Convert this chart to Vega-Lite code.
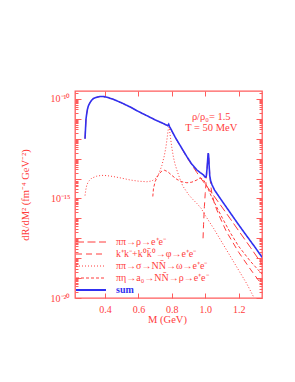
{
  "$schema": "https://vega.github.io/schema/vega-lite/v6.json",
  "width": 187,
  "height": 207,
  "autosize": {"type": "none"},
  "padding": {"left": 75, "top": 91, "right": 33, "bottom": 84},
  "background": "white",
  "config": {
    "view": {"stroke": "#ff5c5c", "strokeWidth": 1.3},
    "font": "Liberation Serif",
    "axis": {"grid": false, "domain": false, "labelFont": "Liberation Serif", "titleFont": "Liberation Serif", "labelColor": "#ff3c3c", "titleColor": "#ff3c3c", "tickColor": "#ff5c5c", "tickWidth": 1, "labelFontSize": 10, "titleFontSize": 10.5, "titleFontWeight": "normal", "labelOverlap": false, "labelFlush": false}
  },
  "datasets": {
    "red": [
      {"s": "ππ→ρ→e⁺e⁻", "M": 0.280, "R": 1.0e-12},
      {"s": "ππ→ρ→e⁺e⁻", "M": 0.283, "R": 3.16e-12},
      {"s": "ππ→ρ→e⁺e⁻", "M": 0.286, "R": 1.0e-11},
      {"s": "ππ→ρ→e⁺e⁻", "M": 0.290, "R": 1.78e-11},
      {"s": "ππ→ρ→e⁺e⁻", "M": 0.295, "R": 3.16e-11},
      {"s": "ππ→ρ→e⁺e⁻", "M": 0.300, "R": 4.47e-11},
      {"s": "ππ→ρ→e⁺e⁻", "M": 0.310, "R": 6.61e-11},
      {"s": "ππ→ρ→e⁺e⁻", "M": 0.320, "R": 8.71e-11},
      {"s": "ππ→ρ→e⁺e⁻", "M": 0.330, "R": 1.05e-10},
      {"s": "ππ→ρ→e⁺e⁻", "M": 0.350, "R": 1.23e-10},
      {"s": "ππ→ρ→e⁺e⁻", "M": 0.370, "R": 1.32e-10},
      {"s": "ππ→ρ→e⁺e⁻", "M": 0.390, "R": 1.32e-10},
      {"s": "ππ→ρ→e⁺e⁻", "M": 0.410, "R": 1.23e-10},
      {"s": "ππ→ρ→e⁺e⁻", "M": 0.450, "R": 9.55e-11},
      {"s": "ππ→ρ→e⁺e⁻", "M": 0.500, "R": 6.31e-11},
      {"s": "ππ→ρ→e⁺e⁻", "M": 0.550, "R": 3.98e-11},
      {"s": "ππ→ρ→e⁺e⁻", "M": 0.600, "R": 2.34e-11},
      {"s": "ππ→ρ→e⁺e⁻", "M": 0.650, "R": 1.45e-11},
      {"s": "ππ→ρ→e⁺e⁻", "M": 0.700, "R": 8.91e-12},
      {"s": "ππ→ρ→e⁺e⁻", "M": 0.740, "R": 6.31e-12},
      {"s": "ππ→ρ→e⁺e⁻", "M": 0.760, "R": 5.25e-12},
      {"s": "ππ→ρ→e⁺e⁻", "M": 0.775, "R": 4.57e-12},
      {"s": "ππ→ρ→e⁺e⁻", "M": 0.787, "R": 3.8e-12},
      {"s": "ππ→ρ→e⁺e⁻", "M": 0.800, "R": 2.40e-12},
      {"s": "ππ→ρ→e⁺e⁻", "M": 0.820, "R": 1.15e-12},
      {"s": "ππ→ρ→e⁺e⁻", "M": 0.860, "R": 3.16e-13},
      {"s": "ππ→ρ→e⁺e⁻", "M": 0.890, "R": 1.17e-13},
      {"s": "ππ→ρ→e⁺e⁻", "M": 0.920, "R": 4.79e-14},
      {"s": "ππ→ρ→e⁺e⁻", "M": 0.950, "R": 2.0e-14},
      {"s": "ππ→ρ→e⁺e⁻", "M": 0.970, "R": 1.12e-14},
      {"s": "ππ→ρ→e⁺e⁻", "M": 1.000, "R": 5.25e-15},
      {"s": "ππ→ρ→e⁺e⁻", "M": 1.050, "R": 1.41e-15},
      {"s": "ππ→ρ→e⁺e⁻", "M": 1.100, "R": 3.72e-16},
      {"s": "ππ→ρ→e⁺e⁻", "M": 1.150, "R": 9.55e-17},
      {"s": "ππ→ρ→e⁺e⁻", "M": 1.200, "R": 2.40e-17},
      {"s": "ππ→ρ→e⁺e⁻", "M": 1.270, "R": 3.55e-18},
      {"s": "ππ→ρ→e⁺e⁻", "M": 1.340, "R": 5.01e-19},

      {"s": "k⁺k⁻+k⁰k̄⁰→φ→e⁺e⁻", "M": 0.987, "R": 1.0e-17},
      {"s": "k⁺k⁻+k⁰k̄⁰→φ→e⁺e⁻", "M": 0.990, "R": 5.01e-17},
      {"s": "k⁺k⁻+k⁰k̄⁰→φ→e⁺e⁻", "M": 0.995, "R": 3.98e-16},
      {"s": "k⁺k⁻+k⁰k̄⁰→φ→e⁺e⁻", "M": 1.000, "R": 1.78e-15},
      {"s": "k⁺k⁻+k⁰k̄⁰→φ→e⁺e⁻", "M": 1.005, "R": 6.31e-15},
      {"s": "k⁺k⁻+k⁰k̄⁰→φ→e⁺e⁻", "M": 1.010, "R": 2.51e-14},
      {"s": "k⁺k⁻+k⁰k̄⁰→φ→e⁺e⁻", "M": 1.014, "R": 7.94e-14},
      {"s": "k⁺k⁻+k⁰k̄⁰→φ→e⁺e⁻", "M": 1.017, "R": 1.58e-13},
      {"s": "k⁺k⁻+k⁰k̄⁰→φ→e⁺e⁻", "M": 1.019, "R": 1.91e-13},
      {"s": "k⁺k⁻+k⁰k̄⁰→φ→e⁺e⁻", "M": 1.021, "R": 1.41e-13},
      {"s": "k⁺k⁻+k⁰k̄⁰→φ→e⁺e⁻", "M": 1.024, "R": 5.01e-14},
      {"s": "k⁺k⁻+k⁰k̄⁰→φ→e⁺e⁻", "M": 1.028, "R": 1.26e-14},
      {"s": "k⁺k⁻+k⁰k̄⁰→φ→e⁺e⁻", "M": 1.033, "R": 4.47e-15},
      {"s": "k⁺k⁻+k⁰k̄⁰→φ→e⁺e⁻", "M": 1.040, "R": 1.78e-15},
      {"s": "k⁺k⁻+k⁰k̄⁰→φ→e⁺e⁻", "M": 1.055, "R": 5.62e-16},
      {"s": "k⁺k⁻+k⁰k̄⁰→φ→e⁺e⁻", "M": 1.080, "R": 1.58e-16},
      {"s": "k⁺k⁻+k⁰k̄⁰→φ→e⁺e⁻", "M": 1.126, "R": 2.24e-17},
      {"s": "k⁺k⁻+k⁰k̄⁰→φ→e⁺e⁻", "M": 1.200, "R": 2.0e-18},
      {"s": "k⁺k⁻+k⁰k̄⁰→φ→e⁺e⁻", "M": 1.270, "R": 2.82e-19},
      {"s": "k⁺k⁻+k⁰k̄⁰→φ→e⁺e⁻", "M": 1.340, "R": 4.47e-20},

      {"s": "ππ→σ→NN̄→ω→e⁺e⁻", "M": 0.280, "R": 1.41e-15},
      {"s": "ππ→σ→NN̄→ω→e⁺e⁻", "M": 0.285, "R": 2.82e-15},
      {"s": "ππ→σ→NN̄→ω→e⁺e⁻", "M": 0.290, "R": 4.47e-15},
      {"s": "ππ→σ→NN̄→ω→e⁺e⁻", "M": 0.300, "R": 7.08e-15},
      {"s": "ππ→σ→NN̄→ω→e⁺e⁻", "M": 0.320, "R": 1.05e-14},
      {"s": "ππ→σ→NN̄→ω→e⁺e⁻", "M": 0.350, "R": 1.32e-14},
      {"s": "ππ→σ→NN̄→ω→e⁺e⁻", "M": 0.380, "R": 1.45e-14},
      {"s": "ππ→σ→NN̄→ω→e⁺e⁻", "M": 0.410, "R": 1.41e-14},
      {"s": "ππ→σ→NN̄→ω→e⁺e⁻", "M": 0.450, "R": 1.26e-14},
      {"s": "ππ→σ→NN̄→ω→e⁺e⁻", "M": 0.500, "R": 1.05e-14},
      {"s": "ππ→σ→NN̄→ω→e⁺e⁻", "M": 0.550, "R": 8.51e-15},
      {"s": "ππ→σ→NN̄→ω→e⁺e⁻", "M": 0.600, "R": 7.41e-15},
      {"s": "ππ→σ→NN̄→ω→e⁺e⁻", "M": 0.650, "R": 6.92e-15},
      {"s": "ππ→σ→NN̄→ω→e⁺e⁻", "M": 0.680, "R": 7.59e-15},
      {"s": "ππ→σ→NN̄→ω→e⁺e⁻", "M": 0.700, "R": 9.55e-15},
      {"s": "ππ→σ→NN̄→ω→e⁺e⁻", "M": 0.720, "R": 1.58e-14},
      {"s": "ππ→σ→NN̄→ω→e⁺e⁻", "M": 0.740, "R": 4.47e-14},
      {"s": "ππ→σ→NN̄→ω→e⁺e⁻", "M": 0.755, "R": 1.41e-13},
      {"s": "ππ→σ→NN̄→ω→e⁺e⁻", "M": 0.765, "R": 3.98e-13},
      {"s": "ππ→σ→NN̄→ω→e⁺e⁻", "M": 0.772, "R": 1.12e-12},
      {"s": "ππ→σ→NN̄→ω→e⁺e⁻", "M": 0.778, "R": 2.82e-12},
      {"s": "ππ→σ→NN̄→ω→e⁺e⁻", "M": 0.782, "R": 3.98e-12},
      {"s": "ππ→σ→NN̄→ω→e⁺e⁻", "M": 0.786, "R": 2.82e-12},
      {"s": "ππ→σ→NN̄→ω→e⁺e⁻", "M": 0.792, "R": 1.12e-12},
      {"s": "ππ→σ→NN̄→ω→e⁺e⁻", "M": 0.800, "R": 3.55e-13},
      {"s": "ππ→σ→NN̄→ω→e⁺e⁻", "M": 0.810, "R": 1.12e-13},
      {"s": "ππ→σ→NN̄→ω→e⁺e⁻", "M": 0.820, "R": 5.01e-14},
      {"s": "ππ→σ→NN̄→ω→e⁺e⁻", "M": 0.835, "R": 2.0e-14},
      {"s": "ππ→σ→NN̄→ω→e⁺e⁻", "M": 0.850, "R": 8.91e-15},
      {"s": "ππ→σ→NN̄→ω→e⁺e⁻", "M": 0.866, "R": 4.17e-15},
      {"s": "ππ→σ→NN̄→ω→e⁺e⁻", "M": 0.900, "R": 1.58e-15},
      {"s": "ππ→σ→NN̄→ω→e⁺e⁻", "M": 0.926, "R": 8.91e-16},
      {"s": "ππ→σ→NN̄→ω→e⁺e⁻", "M": 0.950, "R": 5.62e-16},
      {"s": "ππ→σ→NN̄→ω→e⁺e⁻", "M": 0.976, "R": 3.16e-16},
      {"s": "ππ→σ→NN̄→ω→e⁺e⁻", "M": 1.000, "R": 1.41e-16},
      {"s": "ππ→σ→NN̄→ω→e⁺e⁻", "M": 1.050, "R": 3.16e-17},
      {"s": "ππ→σ→NN̄→ω→e⁺e⁻", "M": 1.100, "R": 6.31e-18},
      {"s": "ππ→σ→NN̄→ω→e⁺e⁻", "M": 1.150, "R": 1.26e-18},
      {"s": "ππ→σ→NN̄→ω→e⁺e⁻", "M": 1.200, "R": 2.51e-19},
      {"s": "ππ→σ→NN̄→ω→e⁺e⁻", "M": 1.250, "R": 5.01e-20},
      {"s": "ππ→σ→NN̄→ω→e⁺e⁻", "M": 1.290, "R": 1.12e-20},

      {"s": "πη→a₀→NN̄→ρ→e⁺e⁻", "M": 0.686, "R": 1.26e-15},
      {"s": "πη→a₀→NN̄→ρ→e⁺e⁻", "M": 0.690, "R": 3.16e-15},
      {"s": "πη→a₀→NN̄→ρ→e⁺e⁻", "M": 0.700, "R": 7.08e-15},
      {"s": "πη→a₀→NN̄→ρ→e⁺e⁻", "M": 0.720, "R": 1.58e-14},
      {"s": "πη→a₀→NN̄→ρ→e⁺e⁻", "M": 0.740, "R": 2.40e-14},
      {"s": "πη→a₀→NN̄→ρ→e⁺e⁻", "M": 0.755, "R": 2.63e-14},
      {"s": "πη→a₀→NN̄→ρ→e⁺e⁻", "M": 0.775, "R": 2.24e-14},
      {"s": "πη→a₀→NN̄→ρ→e⁺e⁻", "M": 0.800, "R": 1.45e-14},
      {"s": "πη→a₀→NN̄→ρ→e⁺e⁻", "M": 0.830, "R": 9.12e-15},
      {"s": "πη→a₀→NN̄→ρ→e⁺e⁻", "M": 0.860, "R": 6.92e-15},
      {"s": "πη→a₀→NN̄→ρ→e⁺e⁻", "M": 0.890, "R": 6.17e-15},
      {"s": "πη→a₀→NN̄→ρ→e⁺e⁻", "M": 0.920, "R": 6.61e-15},
      {"s": "πη→a₀→NN̄→ρ→e⁺e⁻", "M": 0.950, "R": 8.51e-15},
      {"s": "πη→a₀→NN̄→ρ→e⁺e⁻", "M": 0.970, "R": 1.05e-14},
      {"s": "πη→a₀→NN̄→ρ→e⁺e⁻", "M": 0.985, "R": 9.55e-15},
      {"s": "πη→a₀→NN̄→ρ→e⁺e⁻", "M": 1.000, "R": 6.31e-15},
      {"s": "πη→a₀→NN̄→ρ→e⁺e⁻", "M": 1.016, "R": 3.16e-15},
      {"s": "πη→a₀→NN̄→ρ→e⁺e⁻", "M": 1.040, "R": 1.12e-15},
      {"s": "πη→a₀→NN̄→ρ→e⁺e⁻", "M": 1.076, "R": 2.82e-16},
      {"s": "πη→a₀→NN̄→ρ→e⁺e⁻", "M": 1.110, "R": 7.94e-17},
      {"s": "πη→a₀→NN̄→ρ→e⁺e⁻", "M": 1.150, "R": 1.91e-17},
      {"s": "πη→a₀→NN̄→ρ→e⁺e⁻", "M": 1.200, "R": 3.98e-18},
      {"s": "πη→a₀→NN̄→ρ→e⁺e⁻", "M": 1.270, "R": 7.08e-19},
      {"s": "πη→a₀→NN̄→ρ→e⁺e⁻", "M": 1.340, "R": 1.58e-19}
    ],
    "sum": [
      {"s": "sum", "M": 0.280, "R": 1.0e-12},
      {"s": "sum", "M": 0.283, "R": 3.16e-12},
      {"s": "sum", "M": 0.286, "R": 1.0e-11},
      {"s": "sum", "M": 0.290, "R": 1.78e-11},
      {"s": "sum", "M": 0.295, "R": 3.16e-11},
      {"s": "sum", "M": 0.300, "R": 4.47e-11},
      {"s": "sum", "M": 0.310, "R": 6.61e-11},
      {"s": "sum", "M": 0.320, "R": 8.71e-11},
      {"s": "sum", "M": 0.330, "R": 1.05e-10},
      {"s": "sum", "M": 0.350, "R": 1.23e-10},
      {"s": "sum", "M": 0.370, "R": 1.32e-10},
      {"s": "sum", "M": 0.390, "R": 1.32e-10},
      {"s": "sum", "M": 0.410, "R": 1.23e-10},
      {"s": "sum", "M": 0.450, "R": 9.55e-11},
      {"s": "sum", "M": 0.500, "R": 6.31e-11},
      {"s": "sum", "M": 0.550, "R": 3.98e-11},
      {"s": "sum", "M": 0.600, "R": 2.34e-11},
      {"s": "sum", "M": 0.650, "R": 1.45e-11},
      {"s": "sum", "M": 0.700, "R": 8.91e-12},
      {"s": "sum", "M": 0.740, "R": 6.31e-12},
      {"s": "sum", "M": 0.760, "R": 5.25e-12},
      {"s": "sum", "M": 0.775, "R": 4.57e-12},
      {"s": "sum", "M": 0.781, "R": 5.37e-12},
      {"s": "sum", "M": 0.787, "R": 3.98e-12},
      {"s": "sum", "M": 0.800, "R": 2.51e-12},
      {"s": "sum", "M": 0.820, "R": 1.20e-12},
      {"s": "sum", "M": 0.860, "R": 3.31e-13},
      {"s": "sum", "M": 0.890, "R": 1.26e-13},
      {"s": "sum", "M": 0.920, "R": 5.25e-14},
      {"s": "sum", "M": 0.950, "R": 2.69e-14},
      {"s": "sum", "M": 0.970, "R": 2.0e-14},
      {"s": "sum", "M": 0.990, "R": 1.51e-14},
      {"s": "sum", "M": 1.000, "R": 1.17e-14},
      {"s": "sum", "M": 1.006, "R": 1.26e-14},
      {"s": "sum", "M": 1.011, "R": 3.16e-14},
      {"s": "sum", "M": 1.015, "R": 1.0e-13},
      {"s": "sum", "M": 1.018, "R": 1.91e-13},
      {"s": "sum", "M": 1.020, "R": 1.58e-13},
      {"s": "sum", "M": 1.023, "R": 5.01e-14},
      {"s": "sum", "M": 1.027, "R": 1.41e-14},
      {"s": "sum", "M": 1.032, "R": 7.94e-15},
      {"s": "sum", "M": 1.040, "R": 5.01e-15},
      {"s": "sum", "M": 1.056, "R": 2.63e-15},
      {"s": "sum", "M": 1.100, "R": 7.59e-16},
      {"s": "sum", "M": 1.150, "R": 1.91e-16},
      {"s": "sum", "M": 1.200, "R": 4.79e-17},
      {"s": "sum", "M": 1.250, "R": 1.26e-17},
      {"s": "sum", "M": 1.300, "R": 3.39e-18},
      {"s": "sum", "M": 1.340, "R": 1.12e-18}
    ],
    "notes": [
      {"M": 1.036, "R": 1.30e-11, "t": "ρ/ρ₀= 1.5"},
      {"M": 1.036, "R": 3.43e-12, "t": "T = 50 MeV"}
    ]
  },
  "layer": [
    {
      "data": {"name": "red"},
      "mark": {"type": "line", "clip": true, "strokeWidth": 1},
      "encoding": {
        "x": {"field": "M", "type": "quantitative",
          "scale": {"domain": [0.22, 1.34], "nice": false, "zero": false},
          "axis": {"orient": "top", "labels": false, "title": null, "values": [0.4, 0.6, 0.8, 1.0, 1.2], "tickSize": -5}},
        "y": {"field": "R", "type": "quantitative",
          "scale": {"type": "log", "domain": [1e-20, 2.512e-10], "nice": false},
          "axis": {"orient": "right", "labels": false, "title": null,
            "tickSize": {"condition": {"test": "abs(log(datum.value)/LN10 - round(log(datum.value)/LN10)) < 0.001", "value": -6}, "value": -3},
            "values": [1e-20,2e-20,3e-20,4e-20,5e-20,6e-20,7e-20,8e-20,9e-20,1e-19,2e-19,3e-19,4e-19,5e-19,6e-19,7e-19,8e-19,9e-19,1e-18,2e-18,3e-18,4e-18,5e-18,6e-18,7e-18,8e-18,9e-18,1e-17,2e-17,3e-17,4e-17,5e-17,6e-17,7e-17,8e-17,9e-17,1e-16,2e-16,3e-16,4e-16,5e-16,6e-16,7e-16,8e-16,9e-16,1e-15,2e-15,3e-15,4e-15,5e-15,6e-15,7e-15,8e-15,9e-15,1e-14,2e-14,3e-14,4e-14,5e-14,6e-14,7e-14,8e-14,9e-14,1e-13,2e-13,3e-13,4e-13,5e-13,6e-13,7e-13,8e-13,9e-13,1e-12,2e-12,3e-12,4e-12,5e-12,6e-12,7e-12,8e-12,9e-12,1e-11,2e-11,3e-11,4e-11,5e-11,6e-11,7e-11,8e-11,9e-11,1e-10,2e-10]}},
        "color": {"field": "s", "type": "nominal",
          "scale": {"domain": ["ππ→ρ→e⁺e⁻", "k⁺k⁻+k⁰k̄⁰→φ→e⁺e⁻", "ππ→σ→NN̄→ω→e⁺e⁻", "πη→a₀→NN̄→ρ→e⁺e⁻", "sum"],
                    "range": ["#ff3c3c", "#ff3c3c", "#ff3c3c", "#ff3c3c", "#3030f0"]},
          "legend": {"orient": "none", "legendX": 11, "legendY": 146, "title": null,
            "symbolType": "M-3,0H3", "symbolSize": 100, "symbolStrokeWidth": 1,
            "labelFont": "Liberation Serif", "labelFontSize": 10, "labelOffset": 20, "rowPadding": 2, "padding": 0, "labelLimit": 250,
            "encode": {
              "labels": {"update": {"fill": {"signal": "datum.label === 'sum' ? '#3030f0' : '#ff3c3c'"}, "fontWeight": {"signal": "datum.label === 'sum' ? 'bold' : 'normal'"}}},
              "symbols": {"update": {"strokeWidth": {"signal": "datum.label === 'sum' ? 1.8 : 1"}}}
            }}},
        "strokeDash": {"field": "s", "type": "nominal",
          "scale": {"domain": ["ππ→ρ→e⁺e⁻", "k⁺k⁻+k⁰k̄⁰→φ→e⁺e⁻", "ππ→σ→NN̄→ω→e⁺e⁻", "πη→a₀→NN̄→ρ→e⁺e⁻", "sum"],
                    "range": [[8, 3.5], [6, 4], [1, 2], [3, 2], [1, 0]]}}
      }
    },
    {
      "data": {"name": "sum"},
      "mark": {"type": "line", "clip": true, "strokeWidth": 1.6},
      "encoding": {
        "x": {"field": "M", "type": "quantitative",
          "scale": {"domain": [0.22, 1.34], "nice": false, "zero": false},
          "axis": {"orient": "bottom", "values": [0.4, 0.6, 0.8, 1.0, 1.2], "format": ".1f", "tickSize": -5, "labelPadding": 11,
            "title": "M  (GeV)", "titleX": 92, "titleY": 24, "titleBaseline": "alphabetic", "titleAlign": "center"}},
        "y": {"field": "R", "type": "quantitative",
          "scale": {"type": "log", "domain": [1e-20, 2.512e-10], "nice": false},
          "axis": {"orient": "left", "labelPadding": 11,
            "tickSize": {"condition": {"test": "abs(log(datum.value)/LN10 - round(log(datum.value)/LN10)) < 0.001", "value": -6}, "value": -3},
            "values": [1e-20,2e-20,3e-20,4e-20,5e-20,6e-20,7e-20,8e-20,9e-20,1e-19,2e-19,3e-19,4e-19,5e-19,6e-19,7e-19,8e-19,9e-19,1e-18,2e-18,3e-18,4e-18,5e-18,6e-18,7e-18,8e-18,9e-18,1e-17,2e-17,3e-17,4e-17,5e-17,6e-17,7e-17,8e-17,9e-17,1e-16,2e-16,3e-16,4e-16,5e-16,6e-16,7e-16,8e-16,9e-16,1e-15,2e-15,3e-15,4e-15,5e-15,6e-15,7e-15,8e-15,9e-15,1e-14,2e-14,3e-14,4e-14,5e-14,6e-14,7e-14,8e-14,9e-14,1e-13,2e-13,3e-13,4e-13,5e-13,6e-13,7e-13,8e-13,9e-13,1e-12,2e-12,3e-12,4e-12,5e-12,6e-12,7e-12,8e-12,9e-12,1e-11,2e-11,3e-11,4e-11,5e-11,6e-11,7e-11,8e-11,9e-11,1e-10,2e-10],
            "labelExpr": "datum.value == 1e-10 ? '10⁻¹⁰' : datum.value == 1e-15 ? '10⁻¹⁵' : datum.value == 1e-20 ? '10⁻²⁰' : ''",
            "title": "dR/dM² (fm⁻⁴ GeV⁻²)", "titleX": -50, "titleY": 103.5, "titleAngle": -90, "titleAlign": "center", "titleBaseline": "middle"}},
        "color": {"field": "s", "type": "nominal",
          "scale": {"domain": ["ππ→ρ→e⁺e⁻", "k⁺k⁻+k⁰k̄⁰→φ→e⁺e⁻", "ππ→σ→NN̄→ω→e⁺e⁻", "πη→a₀→NN̄→ρ→e⁺e⁻", "sum"],
                    "range": ["#ff3c3c", "#ff3c3c", "#ff3c3c", "#ff3c3c", "#3030f0"]}},
        "strokeDash": {"field": "s", "type": "nominal",
          "scale": {"domain": ["ππ→ρ→e⁺e⁻", "k⁺k⁻+k⁰k̄⁰→φ→e⁺e⁻", "ππ→σ→NN̄→ω→e⁺e⁻", "πη→a₀→NN̄→ρ→e⁺e⁻", "sum"],
                    "range": [[8, 3.5], [6, 4], [1, 2], [3, 2], [1, 0]]}}
      }
    },
    {
      "data": {"name": "notes"},
      "mark": {"type": "text", "font": "Liberation Serif", "fontSize": 10.5, "color": "#ff3c3c", "align": "center", "baseline": "middle"},
      "encoding": {
        "x": {"field": "M", "type": "quantitative", "scale": {"domain": [0.22, 1.34], "nice": false, "zero": false}, "axis": null},
        "y": {"field": "R", "type": "quantitative", "scale": {"type": "log", "domain": [1e-20, 2.512e-10], "nice": false}, "axis": null},
        "text": {"field": "t"}
      }
    }
  ],
  "resolve": {"axis": {"x": "independent", "y": "independent"}}
}
